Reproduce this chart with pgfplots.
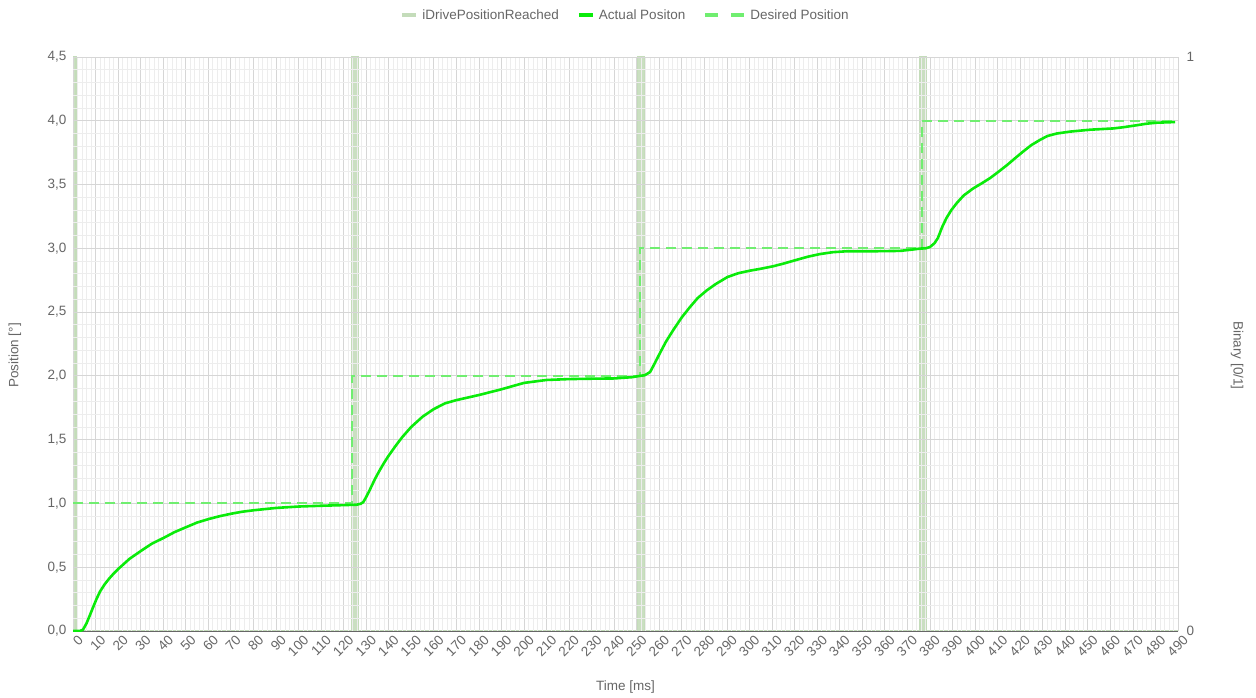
\documentclass[border=0pt]{standalone}
\usepackage{pgfplots}
\pgfplotsset{compat=1.18}
\usepackage{fontspec}
\setmainfont{Liberation Sans}
\definecolor{txt}{HTML}{666666}
\definecolor{actual}{RGB}{10,235,10}
\definecolor{desired}{RGB}{112,238,112}
\definecolor{reached}{RGB}{196,220,186}
\definecolor{gmaj}{HTML}{D6D6D6}
\definecolor{gmin}{HTML}{EDEDED}
\newcommand{\fs}{\fontsize{13.5}{16}\selectfont}

\begin{document}
\begin{tikzpicture}
\path[use as bounding box] (0,0) rectangle (1256pt,697pt);
% secondary axis (binary signal)
\begin{axis}[
  at={(73pt,66pt)}, anchor=south west, scale only axis,
  width=1105pt, height=574pt,
  xmin=0, xmax=490, ymin=0, ymax=1,
  axis x line=none, axis y line*=right,
  axis line style={draw=none},
  ytick={0,1}, major tick length=0pt,
  yticklabel style={font=\fs, text=txt, xshift=5pt},
  /pgf/number format/assume math mode=true,
  ylabel={Binary [0/1]},
  ylabel style={at={(axis description cs:1.0534,0.48)}, anchor=center, rotate=180, font=\fs, text=txt},
]
\addplot[draw=reached, fill=reached, fill opacity=0.9, line width=1.2pt] coordinates {
 (0,1) (1.3,1) (1.3,0) (123.6,0) (123.6,1) (126.5,1) (126.5,0)
 (250.4,0) (250.4,1) (253.4,1) (253.4,0) (375.6,0) (375.6,1) (378.5,1) (378.5,0) (490,0)
} \closedcycle;
\end{axis}
% primary axis
\begin{axis}[
  at={(73pt,66pt)}, anchor=south west, scale only axis,
  width=1105pt, height=574pt,
  xmin=0, xmax=490, ymin=0, ymax=4.5,
  xtick={0,10,...,490}, minor x tick num=4,
  ytick={0,0.5,1,1.5,2,2.5,3,3.5,4,4.5}, minor y tick num=4,
  grid=both,
  major grid style={draw=gmaj, line width=0.8pt},
  minor grid style={draw=gmin, line width=0.8pt},
  axis x line*=bottom, axis y line*=left,
  x axis line style={draw=txt, line width=1pt, -},
  y axis line style={draw=none, -},
  major tick length=0pt, minor tick length=0pt,
  xticklabel style={rotate=45, anchor=north east, font=\fs, text=txt, xshift=4pt, yshift=-2pt},
  yticklabel style={font=\fs, text=txt, xshift=-3pt},
  /pgf/number format/assume math mode=true,
  y tick label style={/pgf/number format/.cd, fixed, fixed zerofill, precision=1, use comma},
  ylabel={Position [°]},
  ylabel style={at={(axis description cs:-0.0525,0.48)}, anchor=center, font=\fs, text=txt},
  xlabel={Time [ms]},
  xlabel style={at={(axis description cs:0.5,-0.0976)}, anchor=center, font=\fs, text=txt},
  legend columns=3,
  legend style={at={(0.5,1.073)}, anchor=center, draw=none, fill=none, font=\fs, text=txt,
    /tikz/every even column/.append style={column sep=16pt},
    /tikz/every odd column/.append style={column sep=2pt}},
]
\addlegendimage{legend image code/.code={\draw[reached, line width=4pt] (0pt,0pt) -- (14pt,0pt);}}
\addlegendentry{iDrivePositionReached}
\addlegendimage{legend image code/.code={\draw[actual, line width=4pt] (0pt,0pt) -- (14pt,0pt);}}
\addlegendentry{Actual Positon}
\addlegendimage{legend image code/.code={\draw[desired, line width=4pt, dash pattern=on 13pt off 13pt] (0pt,0pt) -- (39pt,0pt);}}
\addlegendentry{Desired Position}

\addplot[forget plot, desired, line width=2pt, dash pattern=on 10pt off 6pt] coordinates {
 (0,1) (123.9,1) (123.9,2) (251.4,2) (251.4,3) (376.6,3) (376.6,4) (489.5,4)
};
\addplot[forget plot, actual, line width=2.6pt, line join=round] coordinates {
 (0,0) (3,0) (4.4,0.01) (6,0.06) (7.4,0.12) (9,0.19) (10.4,0.25) (12,0.31) (14,0.365)
 (16,0.41) (18,0.45) (20.3,0.49) (25,0.565) (30.3,0.63) (35,0.685) (40.2,0.73) (45,0.775) (50.3,0.815)
 (55,0.85) (60.2,0.878) (65,0.90) (70.3,0.92) (75,0.935) (80.3,0.947) (90.2,0.965)
 (100.3,0.976) (110.2,0.982) (120.1,0.987) (125.7,0.99) (127.5,0.997) (128.7,1.01)
 (130,1.05) (131.7,1.11) (134,1.195) (136,1.26) (138,1.32) (139.8,1.37) (143,1.45) (146,1.52)
 (150,1.6) (155,1.68) (160,1.74) (165,1.785) (170,1.81) (180,1.85) (190,1.895) (200,1.945)
 (210,1.968) (220,1.975) (230,1.978) (240,1.98) (248,1.99) (251.4,2.0) (253.5,2.005)
 (255.9,2.03) (258,2.10) (260.3,2.18) (263,2.27) (266.2,2.36) (270,2.46) (273.6,2.54)
 (277,2.61) (281,2.67) (285,2.72) (290.2,2.775) (295,2.805) (300.2,2.825) (305,2.84)
 (310.6,2.86) (315,2.88) (320.9,2.91) (326,2.935) (331.2,2.955) (337,2.97) (343.1,2.977)
 (354.9,2.977) (366.7,2.98) (372,2.99) (375.6,2.998) (378,3.0) (380,3.01) (382,3.04)
 (383.5,3.08) (385.5,3.17) (387.4,3.24) (389.5,3.30) (391.9,3.355) (395,3.415) (399.2,3.47)
 (403,3.51) (406.6,3.55) (410,3.595) (414,3.65) (418,3.71) (421.4,3.76) (425,3.81)
 (428.8,3.85) (432,3.88) (436.2,3.90) (442.1,3.915) (451,3.93) (461.3,3.94) (466,3.95)
 (471.7,3.965) (476,3.977) (480.6,3.985) (488.7,3.99)
};
\end{axis}
\end{tikzpicture}
\end{document}
